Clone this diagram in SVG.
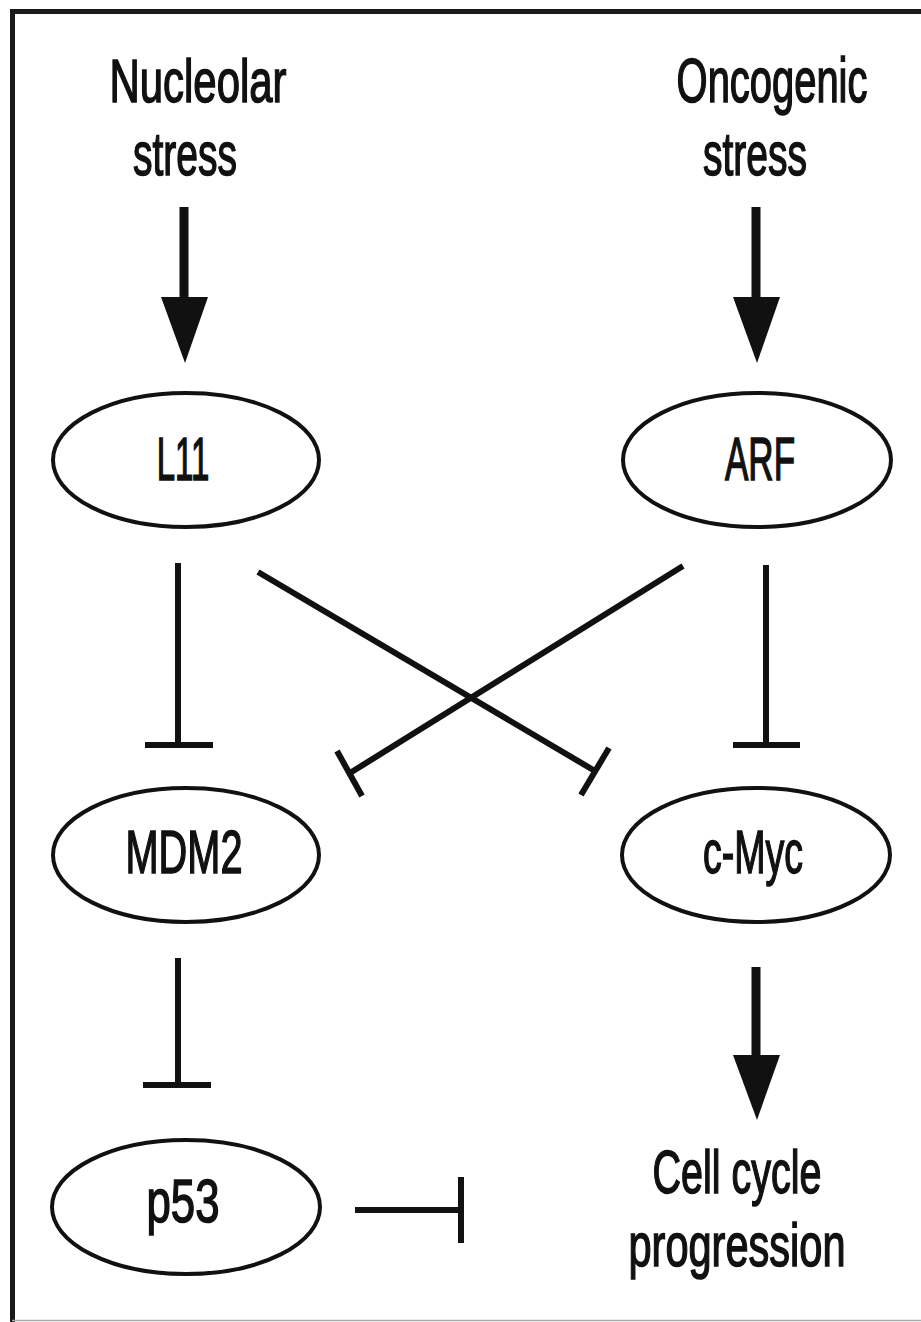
<svg xmlns="http://www.w3.org/2000/svg" width="921" height="1322" viewBox="0 0 921 1322">
<style>
text{font-family:"Liberation Sans",Arial,sans-serif;font-size:62px;fill:#111;stroke:#111;stroke-width:1.6;text-anchor:middle}
.node{fill:#fff;stroke:#111;stroke-width:4}
.inh{stroke:#111;stroke-width:6;fill:none;stroke-linecap:butt}
.shaft{stroke:#111;stroke-width:9;fill:none}
.head{fill:#111}
</style>
<rect width="921" height="1322" fill="#fff"/>
<g id="frame">
<path d="M12.5 1322 V11.5 H921" fill="none" stroke="#1a1a1a" stroke-width="5"/>
<line x1="12" y1="1320.5" x2="921" y2="1320.5" stroke="#aaa" stroke-width="1.5"/>
</g>
<g id="label-nucleolar">
<text transform="translate(198,102) scale(0.676,1)">Nucleolar</text>
<text transform="translate(185,175) scale(0.629,1)">stress</text>
</g>
<g id="label-oncogenic">
<text transform="translate(772,102) scale(0.644,1)">Oncogenic</text>
<text transform="translate(755,175) scale(0.629,1)">stress</text>
</g>
<g id="node-L11">
<ellipse class="node" cx="186" cy="460" rx="133" ry="67"/>
<text transform="translate(183,480) scale(0.532,1)">L11</text>
</g>
<g id="node-ARF">
<ellipse class="node" cx="757" cy="460" rx="134" ry="67"/>
<text transform="translate(760,480) scale(0.565,1)">ARF</text>
</g>
<g id="node-MDM2">
<ellipse class="node" cx="186" cy="855" rx="133" ry="67"/>
<text transform="translate(184,873) scale(0.641,1)">MDM2</text>
</g>
<g id="node-cMyc">
<ellipse class="node" cx="756" cy="855" rx="134" ry="67"/>
<text transform="translate(753,873) scale(0.605,1)">c-Myc</text>
</g>
<g id="node-p53">
<ellipse class="node" cx="186" cy="1207" rx="134" ry="67"/>
<text transform="translate(183,1222) scale(0.706,1)">p53</text>
</g>
<g id="label-cellcycle">
<text transform="translate(737,1193) scale(0.637,1)">Cell cycle</text>
<text transform="translate(737,1266) scale(0.670,1)">progression</text>
</g>
<g id="connectors">
<line class="shaft" x1="184" y1="207" x2="184" y2="300"/>
<polygon class="head" points="161,297 208,297 185,363"/>
<line class="shaft" x1="756" y1="207" x2="756" y2="300"/>
<polygon class="head" points="733,297 780,297 757,363"/>
<line class="shaft" x1="756" y1="967" x2="756" y2="1058"/>
<polygon class="head" points="733,1055 780,1055 757,1120"/>
<line class="inh" x1="178" y1="563" x2="178" y2="745"/>
<line class="inh" x1="145" y1="745" x2="213" y2="745"/>
<line class="inh" x1="766" y1="565" x2="766" y2="745"/>
<line class="inh" x1="733" y1="745" x2="800" y2="745"/>
<line class="inh" x1="178" y1="958" x2="178" y2="1085"/>
<line class="inh" x1="143" y1="1085" x2="211" y2="1085"/>
<line class="inh" x1="355" y1="1210" x2="461" y2="1210"/>
<line class="inh" x1="461" y1="1177" x2="461" y2="1243"/>
<line class="inh" x1="258" y1="572" x2="595" y2="771"/>
<line class="inh" x1="609" y1="748" x2="581" y2="795"/>
<line class="inh" x1="683" y1="566" x2="350" y2="773"/>
<line class="inh" x1="337" y1="751" x2="362" y2="796"/>
</g>
</svg>
